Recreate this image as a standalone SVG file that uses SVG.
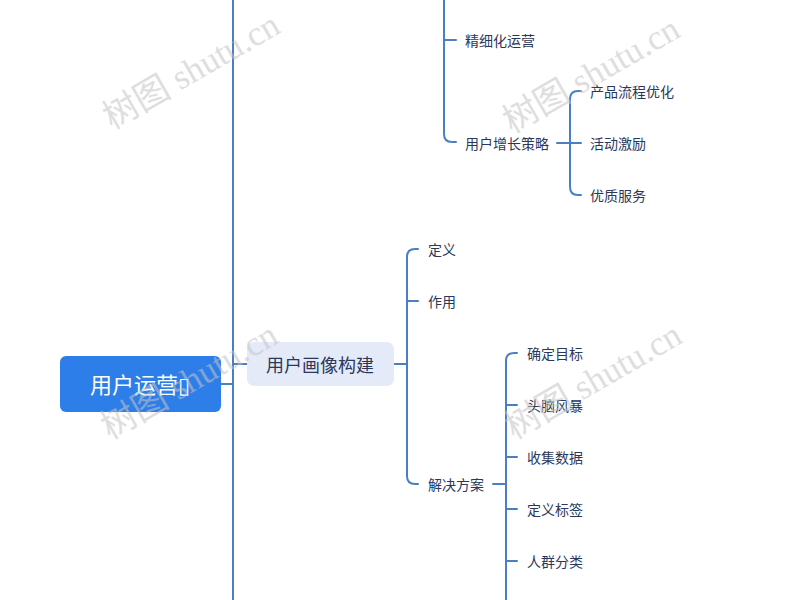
<svg xmlns="http://www.w3.org/2000/svg" width="800" height="600" viewBox="0 0 800 600">
<style>
.ln{fill:none;stroke:#4a80c2;stroke-width:2;stroke-linecap:round}
.lf{font-family:"Noto Sans CJK SC","Noto Sans",sans-serif;font-size:14px;fill:#2c385a;dominant-baseline:central}
.wm{font-family:"Liberation Serif","Noto Sans CJK SC",serif;font-size:35px;fill:#c4c4c4;opacity:0.55}
</style>
<rect width="800" height="600" fill="#ffffff"/>
<g id="connectors">
<path class="ln" d="M233,0 V600"/>
<path class="ln" d="M221,384 H233"/>
<path class="ln" d="M234,364 Q238,364 240,364 H247"/>
<path class="ln" d="M444,0 V134 Q444,142 452,142 H456"/>
<path class="ln" d="M444,40 H456"/>
<path class="ln" d="M557,143 H570"/>
<path class="ln" d="M581,91 H578 Q570,91 570,99 V187 Q570,195 578,195 H581"/>
<path class="ln" d="M570,143 H581"/>
<path class="ln" d="M394,364 H407"/>
<path class="ln" d="M418,249 H415 Q407,249 407,257 V476 Q407,484 415,484 H418"/>
<path class="ln" d="M407,301 H418"/>
<path class="ln" d="M493,484 H506"/>
<path class="ln" d="M517,353 H514 Q506,353 506,361 V600"/>
<path class="ln" d="M506,405 H517"/>
<path class="ln" d="M506,457 H517"/>
<path class="ln" d="M506,509 H517"/>
<path class="ln" d="M506,561 H517"/>
</g>
<g id="root">
<rect x="60" y="356" width="161" height="56" rx="6" fill="#2d7ee8"/>
<text x="140" y="383" text-anchor="middle" font-family="Noto Sans CJK SC,sans-serif" font-size="22" fill="#ffffff" dominant-baseline="central">用户运营▯</text>
</g>
<g id="n-huaxiang">
<rect x="247" y="342" width="147" height="44" rx="7" fill="#e5eaf9"/>
<text x="320" y="364" text-anchor="middle" font-family="Noto Sans CJK SC,sans-serif" font-size="18" fill="#2c385a" dominant-baseline="central">用户画像构建</text>
</g>
<g id="n-jingxihua"><text class="lf" x="465" y="40">精细化运营</text></g>
<g id="n-zengzhang"><text class="lf" x="465" y="143">用户增长策略</text></g>
<g id="n-chanpin"><text class="lf" x="590" y="91">产品流程优化</text></g>
<g id="n-huodong"><text class="lf" x="590" y="143">活动激励</text></g>
<g id="n-youzhi"><text class="lf" x="590" y="195">优质服务</text></g>
<g id="n-dingyi"><text class="lf" x="428" y="249">定义</text></g>
<g id="n-zuoyong"><text class="lf" x="428" y="301">作用</text></g>
<g id="n-jiejue"><text class="lf" x="428" y="484">解决方案</text></g>
<g id="n-mubiao"><text class="lf" x="527" y="353">确定目标</text></g>
<g id="n-fengbao"><text class="lf" x="527" y="405">头脑风暴</text></g>
<g id="n-shuju"><text class="lf" x="527" y="457">收集数据</text></g>
<g id="n-biaoqian"><text class="lf" x="527" y="509">定义标签</text></g>
<g id="n-renqun"><text class="lf" x="527" y="561">人群分类</text></g>
<g id="watermarks">
<text class="wm" transform="translate(112,130) rotate(-30)">树图 shutu.cn</text>
<text class="wm" transform="translate(512,134) rotate(-30)">树图 shutu.cn</text>
<text class="wm" transform="translate(110,440) rotate(-30)">树图 shutu.cn</text>
<text class="wm" transform="translate(514,440) rotate(-30)">树图 shutu.cn</text>
</g>
</svg>
